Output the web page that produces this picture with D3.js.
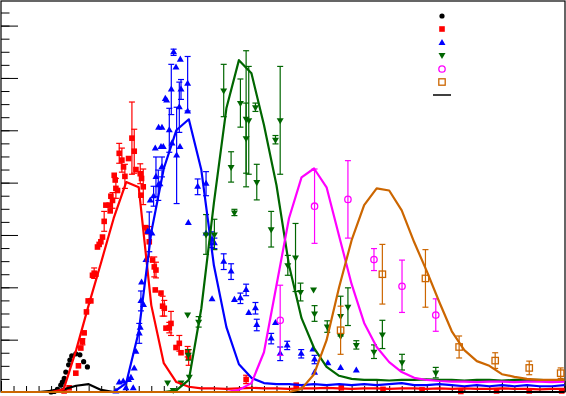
<!DOCTYPE html>
<html>
<head>
<meta charset="utf-8">
<script src="https://cdn.jsdelivr.net/npm/d3@7"></script>
<style>
body { margin: 0; background: #fff; }
</style>
</head>
<body>
<script>
var width = 566,
    height = 396;

// bin centres of the model curves
var binX = [0, 0.2, 0.4, 0.6, 0.8, 1.0, 1.2, 1.4, 1.6, 1.8, 2.0, 2.2, 2.4, 2.6, 2.8, 3.0,
            3.2, 3.4, 3.6, 3.8, 4.0, 4.2, 4.4, 4.6, 4.8, 5.0, 5.2, 5.4, 5.6, 5.8, 6.0,
            6.2, 6.4, 6.6, 6.8, 7.0, 7.2, 7.4, 7.6, 7.8, 8.0, 8.2, 8.4, 8.6, 8.8, 9.0];

var curveBlack = [0, 0, 0, 0, 0.02, 0.05, 0.12, 0.15, 0.04, 0, 0, 0, 0, 0, 0, 0,
                  0, 0, 0, 0, 0, 0, 0, 0, 0, 0, 0, 0, 0, 0, 0,
                  0, 0, 0, 0, 0, 0, 0, 0, 0, 0, 0, 0, 0, 0, 0];
var curveRed = [0, 0, 0, 0, 0, 0.05, 0.80, 1.66, 2.48, 3.32, 4.01, 3.91, 1.66, 0.55, 0.19, 0.10,
                0.07, 0.07, 0.06, 0.07, 0.08, 0.07, 0.07, 0.06, 0.07, 0.07, 0.08, 0.07, 0.06, 0.07, 0.07,
                0.06, 0.07, 0.07, 0.06, 0.07, 0.06, 0.07, 0.06, 0.06, 0.07, 0.06, 0.06, 0.05, 0.06, 0.06];
var curveBlue = [0, 0, 0, 0, 0, 0, 0, 0, 0, 0, 0.17, 1.15, 3.05, 4.27, 5.00, 5.21,
                 4.24, 2.42, 1.24, 0.53, 0.27, 0.17, 0.15, 0.15, 0.13, 0.15, 0.13, 0.15, 0.13, 0.15, 0.13,
                 0.15, 0.17, 0.13, 0.13, 0.15, 0.13, 0.11, 0.13, 0.11, 0.13, 0.11, 0.13, 0.11, 0.11, 0.13];
var curveGreen = [0, 0, 0, 0, 0, 0, 0, 0, 0, 0, 0, 0, 0, 0, 0.03, 0.23,
                  1.60, 3.61, 5.42, 6.34, 6.09, 5.10, 3.95, 2.42, 1.41, 0.84, 0.48, 0.31, 0.25, 0.23, 0.23,
                  0.22, 0.23, 0.23, 0.24, 0.23, 0.23, 0.22, 0.23, 0.23, 0.22, 0.23, 0.23, 0.23, 0.22, 0.23];
var curveMagenta = [0, 0, 0, 0, 0, 0, 0, 0, 0, 0, 0, 0, 0, 0, 0, 0,
                    0, 0, 0, 0.04, 0.17, 0.76, 2.04, 3.32, 4.10, 4.27, 3.91, 2.98, 2.06, 1.32, 0.86,
                    0.57, 0.38, 0.27, 0.23, 0.21, 0.20, 0.20, 0.19, 0.20, 0.20, 0.19, 0.20, 0.20, 0.19, 0.20];
var curveOrange = [0, 0, 0, 0, 0, 0, 0, 0, 0, 0, 0, 0, 0, 0, 0, 0,
                   0, 0, 0, 0, 0, 0, 0, 0, 0.06, 0.34, 0.99, 2.00, 2.90, 3.57, 3.89,
                   3.85, 3.47, 2.86, 2.31, 1.72, 1.16, 0.80, 0.59, 0.50, 0.34, 0.29, 0.25, 0.23, 0.23, 0.23];

// measured points: [x, y, error]
var ptsBlack = [[0.80, 0, 0], [0.85, 0.01, 0], [0.90, 0.05, 0], [0.955, 0.13, 0], [0.98, 0.19, 0],
  [1.01, 0.26, 0], [1.035, 0.38, 0], [1.08, 0.52, 0], [1.10, 0.61, 0], [1.13, 0.69, 0],
  [1.195, 0.73, 0], [1.26, 0.71, 0], [1.32, 0.58, 0], [1.38, 0.48, 0]];

var ptsRed = [[1.008, 0.02, 0], [1.088, 0.08, 0], [1.195, 0.36, 0], [1.237, 0.50, 0], [1.275, 0.84, 0],
  [1.30, 0.96, 0.06], [1.328, 1.13, 0], [1.365, 1.53, 0], [1.392, 1.74, 0], [1.435, 1.74, 0],
  [1.461, 2.23, 0], [1.488, 2.27, 0.10], [1.515, 2.25, 0], [1.541, 2.77, 0], [1.568, 2.82, 0],
  [1.595, 2.87, 0], [1.621, 2.96, 0], [1.648, 3.26, 0.19], [1.675, 3.57, 0], [1.728, 3.57, 0],
  [1.744, 3.46, 0], [1.755, 3.74, 0], [1.781, 3.66, 0.15], [1.808, 4.14, 0], [1.824, 4.05, 0],
  [1.835, 3.89, 0.19], [1.861, 3.85, 0], [1.888, 4.56, 0.19], [1.931, 4.43, 0.23], [1.957, 4.30, 0],
  [1.979, 4.12, 0.23], [2.037, 4.46, 0], [2.091, 4.85, 0.69], [2.128, 4.60, 0.42], [2.155, 4.25, 0],
  [2.224, 4.17, 0.19], [2.245, 4.08, 0], [2.272, 3.92, 0.34], [2.235, 3.76, 0], [2.315, 3.14, 0],
  [2.341, 3.06, 0], [2.368, 2.87, 0.29], [2.421, 2.52, 0], [2.448, 2.39, 0.19], [2.475, 2.33, 0.15],
  [2.464, 1.95, 0], [2.555, 1.89, 0], [2.581, 1.64, 0.19], [2.608, 1.60, 0.15], [2.635, 1.22, 0],
  [2.688, 1.23, 0.10], [2.715, 1.31, 0.23], [2.795, 0.85, 0], [2.848, 0.93, 0.15], [2.875, 0.75, 0],
  [2.981, 0.77, 0.10], [2.997, 0.66, 0.15], [3.915, 0.24, 0.08], [4.715, 0.13, 0], [5.435, 0.08, 0],
  [6.101, 0.05, 0], [6.725, 0.04, 0], [7.344, 0.01, 0], [7.915, 0.02, 0], [8.437, 0.02, 0],
  [8.955, 0.02, 0]];

var ptsBlue = [[1.835, 0.01, 0], [1.888, 0.18, 0], [1.952, 0.20, 0], [1.995, 0.07, 0], [2.037, 0.23, 0],
  [2.075, 0.27, 0], [2.112, 0.07, 0], [2.128, 0.45, 0], [2.155, 0.77, 0], [2.208, 1.12, 0.19],
  [2.224, 1.23, 0], [2.235, 1.74, 0.19], [2.245, 2.09, 0], [2.277, 1.66, 0], [2.315, 2.52, 0],
  [2.341, 3.06, 0], [2.368, 3.06, 0.38], [2.384, 3.66, 0], [2.411, 3.03, 0], [2.437, 3.74, 0.19],
  [2.475, 4.11, 0.38], [2.464, 4.65, 0], [2.512, 3.95, 0.29], [2.539, 3.97, 0], [2.571, 4.30, 0.19],
  [2.555, 4.68, 0], [2.592, 4.68, 0], [2.517, 5.05, 0], [2.571, 5.05, 0], [2.624, 5.60, 0],
  [2.645, 5.57, 0], [2.688, 5.00, 0.42], [2.72, 5.78, 0.48], [2.731, 4.75, 0], [2.757, 6.49, 0.06],
  [2.795, 6.20, 0], [2.805, 4.52, 0.92], [2.848, 5.44, 0.48], [2.864, 6.35, 0], [2.875, 5.78, 0.19],
  [2.859, 4.68, 0], [2.981, 5.89, 0.52], [2.981, 5.36, 0], [2.992, 3.23, 0], [3.141, 3.92, 0.15],
  [3.275, 3.98, 0.23], [3.275, 3.03, 0], [3.371, 2.91, 0.15], [3.408, 2.84, 0.10], [3.371, 1.77, 0],
  [3.557, 2.49, 0.15], [3.675, 2.30, 0.15], [3.728, 1.76, 0], [3.824, 1.79, 0.10], [3.915, 1.95, 0.11],
  [3.957, 1.51, 0], [4.064, 1.60, 0.11], [4.085, 1.28, 0.11], [4.315, 1.02, 0.10], [4.384, 1.32, 0],
  [4.459, 0.73, 0.13], [4.571, 0.89, 0.08], [4.795, 0.73, 0.08], [4.981, 0.81, 0], [5.008, 0.62, 0.08],
  [5.008, 0.37, 0], [5.221, 0.55, 0], [5.424, 0.46, 0], [5.675, 0.41, 0]];

var ptsGreen = [[2.661, 0.18, 0], [2.75, 0.04, 0], [2.875, 0.18, 0], [2.981, 1.48, 0], [2.992, 0.71, 0.10],
  [3.008, 0.29, 0], [3.157, 1.34, 0.10], [3.275, 3.01, 0.38], [3.408, 3.01, 0.29], [3.557, 5.76, 0.50],
  [3.675, 4.30, 0.29], [3.728, 3.43, 0.06], [3.824, 5.52, 0.46], [3.915, 5.22, 1.30], [3.915, 4.85, 0.67],
  [3.957, 5.19, 1.03], [4.064, 5.44, 0.08], [4.085, 4.01, 0.34], [4.384, 4.82, 0.08], [4.459, 5.19, 1.03],
  [4.315, 3.11, 0.34], [4.581, 2.42, 0.19], [4.704, 2.57, 0.65], [4.784, 1.91, 0.17], [4.992, 1.96, 0],
  [5.008, 1.50, 0.15], [5.211, 1.25, 0.11], [5.424, 1.45, 0.38], [5.424, 1.07, 0], [5.541, 1.63, 0.36],
  [5.675, 0.90, 0.08], [5.957, 0.77, 0.13], [6.091, 1.10, 0.27], [6.405, 0.57, 0.15], [6.944, 0.37, 0.10]];

var ptsMagenta = [[4.459, 1.37, 0.67], [5.008, 3.55, 0.71], [5.541, 3.68, 0.74], [5.957, 2.53, 0.21],
  [6.405, 2.02, 0.50], [6.944, 1.47, 0.31]];

var ptsOrange = [[5.424, 1.18, 0.46], [6.091, 2.25, 0.57], [6.779, 2.17, 0.55], [7.317, 0.86, 0.21],
  [7.893, 0.60, 0.15], [8.437, 0.46, 0.13], [8.939, 0.36, 0.10]];

var xMajor = [0, 1, 2, 3, 4, 5, 6, 7, 8, 9],
    yMajor = [0, 1, 2, 3, 4, 5, 6, 7];

var cBlack = "#000000", cRed = "#ff0000", cBlue = "#0000ff",
    cGreen = "#006600", cMagenta = "#ff00ff", cOrange = "#cc6600";

var svg = d3.select("body").append("svg")
    .attr("width", width)
    .attr("height", height)
    .style("display", "block");

var x = d3.scaleLinear().domain([0, 9]).range([1, 564.5]);
var y = d3.scaleLinear().domain([0, 7.47]).range([392, 1]);

// minor ticks
var xMinor = [], yMinor = [];
for (var i = 0; i <= 45; i++) xMinor.push(i * 0.2);
for (var j = 0; j <= 29; j++) yMinor.push(j * 0.25);

svg.append("g").attr("transform", "translate(0,392)")
    .call(d3.axisBottom(x).tickValues(xMinor).tickSize(-6).tickFormat(""))
    .call(g => g.select(".domain").remove());
svg.append("g").attr("transform", "translate(0,392)")
    .call(d3.axisBottom(x).tickValues(xMajor).tickSize(-11).tickFormat(""))
    .call(g => g.select(".domain").remove());
svg.append("g").attr("transform", "translate(1,0)")
    .call(d3.axisLeft(y).tickValues(yMinor).tickSize(-8.5).tickFormat(""))
    .call(g => g.select(".domain").remove());
svg.append("g").attr("transform", "translate(1,0)")
    .call(d3.axisLeft(y).tickValues(yMajor).tickSize(-17).tickFormat(""))
    .call(g => g.select(".domain").remove());

svg.append("rect")
    .attr("x", 1).attr("y", 1)
    .attr("width", 564).attr("height", 391)
    .attr("fill", "none")
    .attr("stroke", "#000")
    .attr("stroke-width", 1.2);

function errorBars(pts, color) {
  var g = svg.append("g").attr("stroke", color).attr("stroke-width", 1.2);
  pts.filter(d => d[2] > 0).forEach(function(d) {
    var px = x(d[0]), y1 = y(d[1] + d[2]), y2 = y(Math.max(0, d[1] - d[2]));
    g.append("line").attr("x1", px).attr("x2", px).attr("y1", y1).attr("y2", y2);
    g.append("line").attr("x1", px - 3).attr("x2", px + 3).attr("y1", y1).attr("y2", y1);
    g.append("line").attr("x1", px - 3).attr("x2", px + 3).attr("y1", y2).attr("y2", y2);
  });
}

function marker(g, kind, color) {
  if (kind == "dot") {
    g.append("circle").attr("r", 2.6).attr("fill", color);
  } else if (kind == "square") {
    g.append("rect").attr("x", -2.8).attr("y", -2.8).attr("width", 5.6).attr("height", 5.6).attr("fill", color);
  } else if (kind == "up") {
    g.append("path").attr("d", d3.symbol(d3.symbolTriangle, 21)()).attr("fill", color);
  } else if (kind == "down") {
    g.append("path").attr("d", d3.symbol(d3.symbolTriangle, 21)())
      .attr("transform", "rotate(180)").attr("fill", color);
  } else if (kind == "ocircle") {
    g.append("circle").attr("r", 3.2).attr("fill", "none").attr("stroke", color).attr("stroke-width", 1.3);
  } else if (kind == "osquare") {
    g.append("rect").attr("x", -3.2).attr("y", -3.2).attr("width", 6.4).attr("height", 6.4)
      .attr("fill", "none").attr("stroke", color).attr("stroke-width", 1.3);
  }
}

function points(pts, kind, color) {
  errorBars(pts, color);
  pts.forEach(function(d) {
    var g = svg.append("g").attr("transform", "translate(" + x(d[0]) + "," + y(d[1]) + ")");
    marker(g, kind, color);
  });
}

var series = [
  {pts: ptsBlack, curve: curveBlack, kind: "dot", color: cBlack},
  {pts: ptsRed, curve: curveRed, kind: "square", color: cRed},
  {pts: ptsBlue, curve: curveBlue, kind: "up", color: cBlue},
  {pts: ptsGreen, curve: curveGreen, kind: "down", color: cGreen},
  {pts: ptsMagenta, curve: curveMagenta, kind: "ocircle", color: cMagenta},
  {pts: ptsOrange, curve: curveOrange, kind: "osquare", color: cOrange}
];

series.forEach(s => points(s.pts, s.kind, s.color));

var line = d3.line().x((d, i) => x(binX[i])).y(d => y(d));
series.forEach(function(s) {
  svg.append("path")
    .datum(s.curve)
    .attr("d", line)
    .attr("fill", "none")
    .attr("stroke", s.color)
    .attr("stroke-width", 2.2)
    .attr("stroke-linejoin", "round");
});

// legend (labels fall outside the visible area)
var leg = svg.append("g").attr("transform", "translate(442,0)");
var legY = [16, 29, 43, 55, 69, 82];
series.forEach(function(s, i) {
  var g = leg.append("g").attr("transform", "translate(0," + legY[i] + ")");
  marker(g, s.kind, s.color);
});
leg.append("line")
    .attr("x1", -9).attr("x2", 9).attr("y1", 95).attr("y2", 95)
    .attr("stroke", "#000").attr("stroke-width", 1.5);
</script>
</body>
</html>
